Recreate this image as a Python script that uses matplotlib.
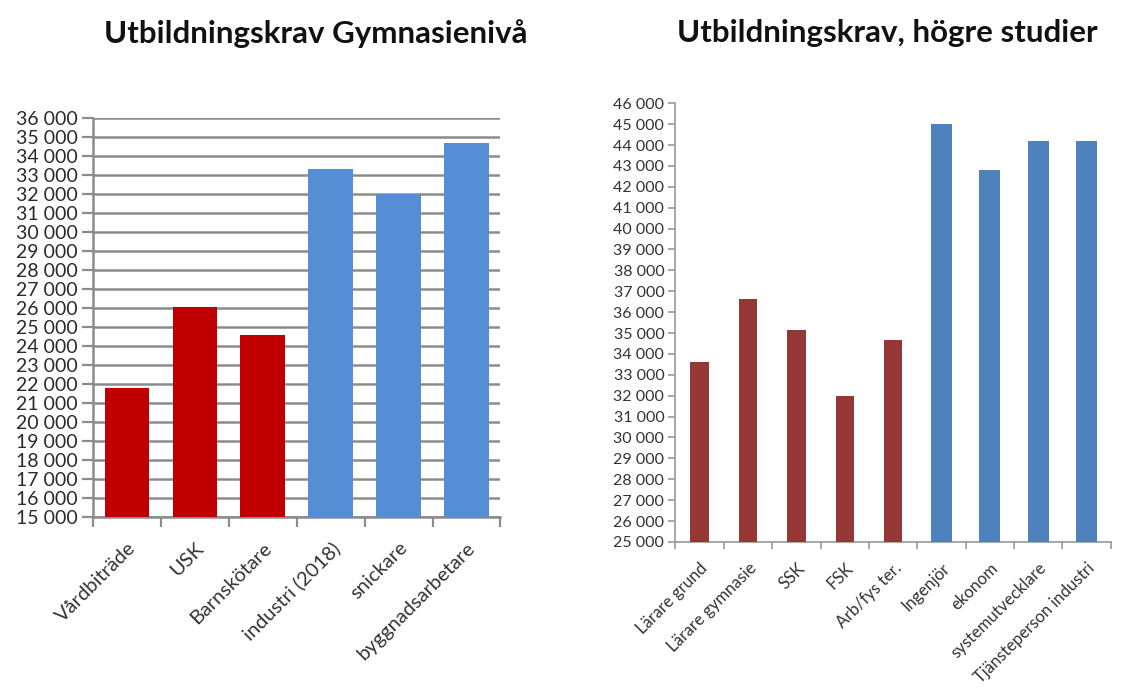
import numpy as np
import matplotlib
matplotlib.use("Agg")
import matplotlib.pyplot as plt
from matplotlib.ticker import FuncFormatter, MultipleLocator

# data
gym_labels = ['Vårdbiträde', 'USK', 'Barnskötare', 'industri (2018)', 'snickare', 'byggnadsarbetare']
gym_values = [21800, 26050, 24600, 33300, 32000, 34700]
gym_colors = ['#C00000', '#C00000', '#C00000', '#558ED5', '#558ED5', '#558ED5']

hog_labels = ['Lärare grund', 'Lärare gymnasie', 'SSK', 'FSK', 'Arb/fys ter.',
              'Ingenjör', 'ekonom', 'systemutvecklare', 'Tjänsteperson industri']
hog_values = [33600, 36650, 35150, 32000, 34650, 45000, 42800, 44200, 44200]
hog_colors = ['#953735'] * 5 + ['#4F81BD'] * 4
hog_widths = [0.38] * 5 + [0.43] * 4

plt.rcParams['font.family'] = ['Lato', 'DejaVu Sans']

fmt = FuncFormatter(lambda v, p: f"{int(v):,}".replace(",", " "))

fig = plt.figure(figsize=(11.22, 6.93), dpi=100)

# left chart
ax1 = fig.add_axes([0.083, 0.254, 0.363, 0.576])
x1 = np.arange(len(gym_labels))
ax1.bar(x1, gym_values, width=0.66, color=gym_colors, zorder=3)
ax1.set_ylim(15000, 36000)
ax1.set_xlim(-0.5, len(gym_labels) - 0.5)
ax1.yaxis.set_major_locator(MultipleLocator(1000))
ax1.yaxis.set_major_formatter(fmt)
ax1.grid(axis='y', color='#8c8c8c', linewidth=1.8, zorder=0)
for s in ['top', 'right']:
    ax1.spines[s].set_visible(False)
for s in ['left', 'bottom']:
    ax1.spines[s].set_color('#8c8c8c')
    ax1.spines[s].set_linewidth(1.8)
ax1.tick_params(axis='y', labelsize=14, colors='#8c8c8c', labelcolor='#2a2a2a',
                length=8, width=1.6, pad=3)
ax1.set_xticks(x1)
ax1.set_xticklabels(gym_labels, rotation=45, ha='right', rotation_mode='anchor',
                    fontsize=14.5, color='#333333')
ax1.tick_params(axis='x', length=0, pad=16)
ax1.set_xticks(np.arange(-0.5, len(gym_labels)), minor=True)
ax1.tick_params(axis='x', which='minor', length=7, width=1.6, color='#8c8c8c')
fig.text(0.281, 0.952, 'Utbildningskrav Gymnasienivå', ha='center', va='center',
         fontsize=22.5, fontweight='bold', color='#111111')

# right chart
ax2 = fig.add_axes([0.602, 0.218, 0.388, 0.633])
x2 = np.arange(len(hog_labels))
ax2.bar(x2, hog_values, width=hog_widths, color=hog_colors, zorder=3)
ax2.set_ylim(25000, 46000)
ax2.set_xlim(-0.5, len(hog_labels) - 0.5)
ax2.yaxis.set_major_locator(MultipleLocator(1000))
ax2.yaxis.set_major_formatter(fmt)
for s in ['top', 'right']:
    ax2.spines[s].set_visible(False)
for s in ['left', 'bottom']:
    ax2.spines[s].set_color('#9a9a9a')
    ax2.spines[s].set_linewidth(1.2)
ax2.tick_params(axis='y', labelsize=11.5, colors='#9a9a9a', labelcolor='#333333',
                length=5, width=1.2, pad=3)
ax2.set_xticks(x2)
ax2.set_xticklabels(hog_labels, rotation=45, ha='right', rotation_mode='anchor',
                    fontsize=12, color='#333333')
ax2.tick_params(axis='x', length=0, pad=13)
ax2.set_xticks(np.arange(-0.5, len(hog_labels)), minor=True)
ax2.tick_params(axis='x', which='minor', length=5, width=1.2, color='#9a9a9a')
fig.text(0.791, 0.952, 'Utbildningskrav, högre studier', ha='center', va='center',
         fontsize=22.5, fontweight='bold', color='#111111')

fig.savefig('out.png', dpi=100)
